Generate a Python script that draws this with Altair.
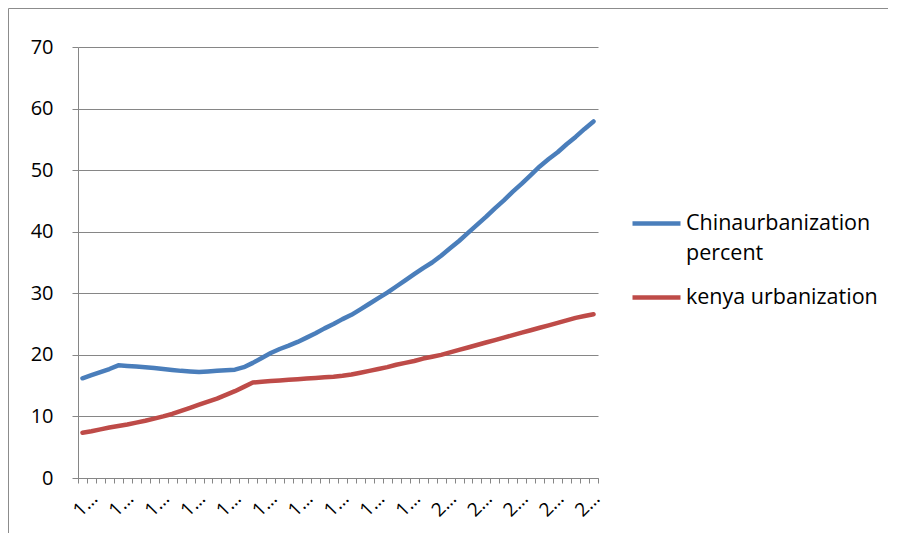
import altair as alt
import pandas as pd

years = list(range(1960, 2018))

china = [16.2, 16.7, 17.2, 17.7, 18.3, 18.2, 18.1, 18.0, 17.85, 17.7,
         17.55, 17.4, 17.3, 17.2, 17.3, 17.4, 17.5, 17.6, 18.0, 18.7,
         19.5, 20.3, 20.95, 21.5, 22.1, 22.8, 23.5, 24.3, 25.0, 25.8,
         26.5, 27.4, 28.3, 29.2, 30.1, 31.1, 32.1, 33.1, 34.1, 35.0,
         36.1, 37.3, 38.5, 39.8, 41.1, 42.4, 43.8, 45.1, 46.5, 47.8,
         49.2, 50.6, 51.8, 52.9, 54.2, 55.4, 56.7, 57.9]

kenya = [7.36, 7.6, 7.9, 8.2, 8.45, 8.7, 9.0, 9.3, 9.65, 10.0,
         10.4, 10.9, 11.4, 11.9, 12.4, 12.9, 13.5, 14.1, 14.8, 15.5,
         15.65, 15.75, 15.85, 15.95, 16.05, 16.15, 16.25, 16.35, 16.45, 16.6,
         16.8, 17.1, 17.4, 17.7, 18.0, 18.4, 18.7, 19.0, 19.4, 19.7,
         20.0, 20.4, 20.8, 21.2, 21.6, 22.0, 22.4, 22.8, 23.2, 23.6,
         24.0, 24.4, 24.8, 25.2, 25.6, 26.0, 26.3, 26.6]

series_names = ["Chinaurbanization percent", "kenya urbanization"]
series_colors = ["#4A7EBB", "#BE4B48"]
x_tick_labels = ["1…", "1…", "1…", "1…", "1…", "1…", "1…", "1…", "1…", "1…",
                 "2…", "2…", "2…", "2…", "2…"]
y_ticks = [0, 10, 20, 30, 40, 50, 60, 70]

rows = []
for yr, c, k in zip(years, china, kenya):
    rows.append({"year": yr, "series": series_names[0], "value": c})
    rows.append({"year": yr, "series": series_names[1], "value": k})
df = pd.DataFrame(rows)

FONT = "Open Sans"
GRAY = "#868686"

label_js = "[" + ",".join("'" + t + "'" for t in x_tick_labels) + "]"
first = years[0]
label_expr = (
    f"((datum.value + 0.5 - {first}) % 4 == 0 && (datum.value + 0.5 - {first}) / 4 < {len(x_tick_labels)})"
    f" ? {label_js}[(datum.value + 0.5 - {first}) / 4] : ''"
)
x_ticks = [y - 0.5 for y in years] + [years[-1] + 0.5]

china_parts = series_names[0].split(" ")
legend_expr = (
    f"datum.label == '{series_names[0]}' ? ['{china_parts[0]}', '{china_parts[1]}'] : datum.label"
)

lines = alt.Chart(df).mark_line(strokeWidth=4.5, strokeCap="round", strokeJoin="round").encode(
    x=alt.X("year:Q",
            scale=alt.Scale(domain=[years[0] - 0.5, years[-1] + 0.5], nice=False, zero=False),
            axis=alt.Axis(values=x_ticks, labelExpr=label_expr, labelAngle=-45,
                          labelAlign="center", labelBaseline="middle",
                          labelOffset=7, labelPadding=21, tickSize=5,
                          tickColor=GRAY, domainColor=GRAY, grid=False,
                          labelOverlap=False, labelFlush=False,
                          labelFont=FONT, labelFontSize=19, labelColor="black",
                          title=None)),
    y=alt.Y("value:Q",
            scale=alt.Scale(domain=[0, 70], nice=False),
            axis=alt.Axis(values=y_ticks, tickSize=6, tickColor=GRAY, domainColor=GRAY,
                          gridColor=GRAY, gridWidth=1.2, labelPadding=19,
                          labelFont=FONT, labelFontSize=20, labelColor="black",
                          title=None)),
    color=alt.Color("series:N",
                    scale=alt.Scale(domain=series_names, range=series_colors),
                    legend=alt.Legend(title=None, orient="none", legendX=552, legendY=150,
                                      symbolType="stroke", symbolSize=2304,
                                      symbolStrokeWidth=4.5, labelExpr=legend_expr,
                                      labelFont=FONT, labelFontSize=21.5, labelColor="black",
                                      labelOffset=3, rowPadding=7, padding=0,
                                      labelLimit=400)),
)

border = alt.Chart(pd.DataFrame({"a": [0]})).mark_rect(
    fillOpacity=0, stroke="#8c8c8c", strokeWidth=1
).encode(
    x=alt.value(-69.5), x2=alt.value(900), y=alt.value(-38.5), y2=alt.value(700)
)

chart = alt.layer(border, lines).properties(
    width=520, height=431,
    autosize=alt.AutoSizeParams(type="none"),
    padding={"left": 70, "top": 39, "right": 290, "bottom": 55},
).configure(style={"guide-label": {"lineHeight": 30}}).configure_view(stroke=None)

chart.save("out.html", embed_options={"renderer": "svg", "actions": False})
